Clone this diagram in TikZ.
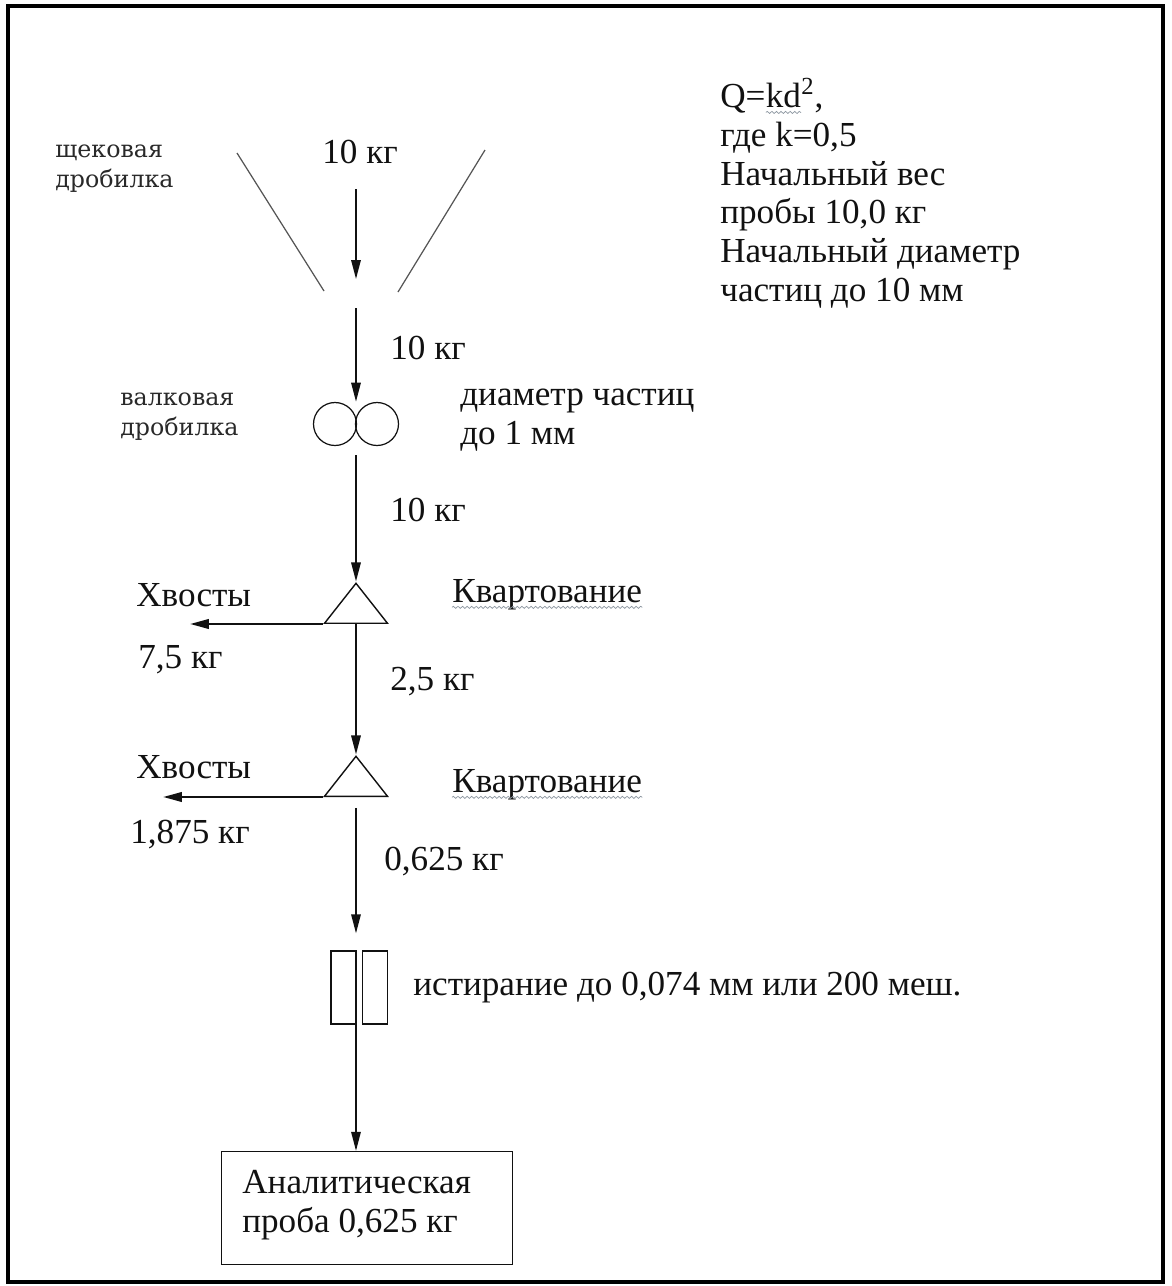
\documentclass[tikz,border=0pt]{standalone}
\usepackage{fontspec}
\setmainfont{Liberation Serif}
\newfontfamily\slabfont{DejaVu Serif}
\usepackage{tikz}
\usepackage{xcolor}
\usetikzlibrary{arrows.meta,positioning,calc,shapes.geometric,
                decorations.pathmorphing}
\definecolor{ink}{HTML}{111111}
\definecolor{jawgray}{HTML}{555555}
\definecolor{squig}{HTML}{8C96A0}
\newcommand{\spellmark}[1]{\tikz[baseline=(sw.base)]{%
  \node[anchor=base,inner sep=0pt,outer sep=0pt] (sw) at (0,0) {#1};
  \draw[wavy] ([yshift=-2.6pt]sw.base west) -- ([yshift=-2.6pt]sw.base east);}}

\begin{document}
\begin{tikzpicture}[x=0.02cm,y=-0.02cm,
  font=\fontsize{20}{22}\selectfont,
  lbl/.style={anchor=west,inner sep=0pt,text=ink},
  note/.style={anchor=north west,align=left,inner sep=0pt,
               font=\slabfont\fontsize{13.5}{17.5}\selectfont,text=ink!90},
  flow/.style={draw=ink,line width=0.9pt,-{Triangle[length=0.38cm,width=0.19cm]}},
  tailflow/.style={flow,line width=1.4pt},
  quart/.style={draw=ink,line width=0.8pt,isosceles triangle,
                isosceles triangle stretches,shape border rotate=90,
                minimum width=1.26cm,minimum height=0.8cm,inner sep=0pt},
  millbar/.style={draw=ink,line width=0.8pt,minimum width=0.5cm,
                  minimum height=1.46cm,inner sep=0pt},
  wavy/.style={draw=squig,line width=0.4pt,decorate,
               decoration={snake,amplitude=0.6pt,segment length=2.6pt}}]

  \useasboundingbox (0,0) rectangle (1171,1286);
  % page frame
  \draw[line width=0.075cm] (8,6) rectangle (1163,1282);

  % jaw crusher
  \node[lbl] (feed) at (322,152) {10 кг};
  \draw[jawgray,line width=0.7pt] (237,153) -- (324,291);
  \draw[jawgray,line width=0.7pt] (485,150) -- (398,292);
  \coordinate (jaw) at (356,294);
  \node[note] (jawname) at (55,144) {щековая\\дробилка};

  % roll crusher
  \node[minimum width=1.72cm,minimum height=0.88cm,inner sep=0pt] (roll) at (356,424) {};
  \foreach \dx in {-21,21}
    \draw[ink,line width=0.7pt] ($(roll.center)+(\dx,0)$) circle[radius=0.43cm];
  \node[note] (rollname) at (120,392) {валковая\\дробилка};
  \node[lbl,align=left] (rollsize) at (460,420) {диаметр частиц\\до 1 мм};

  % two quarterings
  \node[quart] (q1) at (356,608) {};
  \node[quart] (q2) at (356,781) {};
  \coordinate (tail1) at (190,623);
  \coordinate (tail2) at (163,797);

  % attrition mill and final sample
  \node[millbar] (m1) at (343.5,987.5) {};
  \node[millbar] (m2) at (375,987.5) {};
  \node[draw=ink,line width=0.8pt,minimum width=5.82cm,minimum height=2.26cm,
        inner sep=0pt] (probe) at (367,1208) {};
  \node[lbl,align=left] (probetxt) at (242,1205) {Аналитическая\\проба 0,625 кг};

  % flow line
  \draw[flow,shorten <=0.5cm,shorten >=0.3cm] (feed.south -| jaw) -- (jaw);
  \draw[flow,shorten <=0.28cm] (jaw) -- (roll.north);
  \draw[flow,shorten <=0.18cm] (roll.south) -- (q1.apex);
  \draw[flow] (q1.lower side) -- (q2.apex);
  \draw[flow,shorten <=0.22cm,shorten >=0.34cm] (q2.lower side) -- (q2.lower side |- m1.north);
  \draw[flow] (q2.lower side |- m1.south) -- (probe.north -| q2.lower side);
  \draw[tailflow] (q1.left corner) -- (q1.left corner -| tail1);
  \draw[tailflow] (q2.left corner) -- (q2.left corner -| tail2);

  % labels along the line
  \node[lbl] (w1) at (390,348) {10 кг};
  \node[lbl] (w2) at (390,510) {10 кг};
  \node[lbl] (w3) at (390,682) {2,5 кг};
  \node[lbl] (w4) at (384,862) {0,625 кг};
  \node[lbl] (t1) at (136,595) {Хвосты};
  \node[lbl] (t2) at (136,767) {Хвосты};
  \node[lbl] (tw1) at (138,660) {7,5 кг};
  \node[lbl] (tw2) at (130,835) {1,875 кг};
  \node[lbl] (k1) at (452,595) {Квартование};
  \node[lbl] (k2) at (452,785) {Квартование};
  \foreach \k in {k1,k2}
    \draw[wavy] ([yshift=-2.6pt]\k.base west) -- ([yshift=-2.6pt]\k.base east);
  \node[lbl] (grind) at (413,988) {истирание до 0,074 мм или 200 меш.};

  % formula block
  \node[lbl,anchor=north west,align=left] (given) at (720,78)
   {Q=\spellmark{kd}\textsuperscript{2},\\
    где k=0,5\\
    Начальный вес\\
    пробы 10,0 кг\\
    Начальный диаметр\\
    частиц до 10 мм};
\end{tikzpicture}
\end{document}
